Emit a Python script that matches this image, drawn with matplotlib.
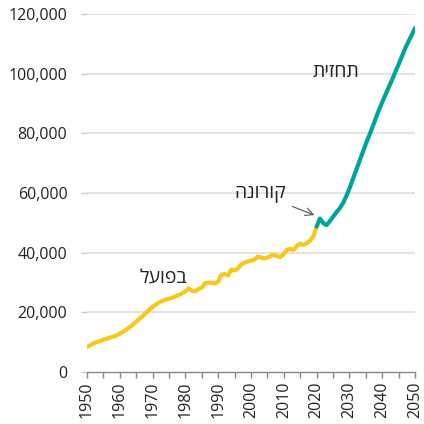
import matplotlib.pyplot as plt
from matplotlib.ticker import FuncFormatter, MultipleLocator

# values in thousands
ACTUAL_YEARS = list(range(1950, 2021))
ACTUAL = [
    8.3, 8.9, 9.5, 10.0, 10.3, 10.8, 11.1, 11.5, 11.8, 12.2,
    12.8, 13.4, 14.1, 15.0, 15.8, 16.8, 17.8, 18.7, 19.8, 20.8,
    21.8, 22.6, 23.3, 23.8, 24.2, 24.5, 24.9, 25.3, 25.8, 26.3,
    27.0, 28.0, 27.2, 27.0, 27.8, 28.2, 29.7, 29.9, 29.9, 29.6,
    30.3, 32.6, 32.8, 32.3, 34.3, 34.0, 34.7, 36.0, 36.6, 37.0,
    37.3, 37.6, 38.6, 38.4, 38.0, 38.3, 38.9, 39.2, 38.8, 38.5,
    39.5, 41.0, 41.2, 40.9, 42.3, 43.0, 42.6, 43.1, 44.0, 45.5,
    48.7,
]
FORECAST_YEARS = list(range(2020, 2051))
FORECAST = [
    48.7, 51.4, 49.9, 49.2, 50.5, 52.0, 53.5, 54.8, 56.5, 58.8,
    61.5, 64.5, 67.5, 70.5, 73.5, 76.5, 79.2, 82.0, 85.0, 87.8,
    90.5, 93.0, 95.5, 98.0, 100.6, 103.2, 105.8, 108.5, 110.8, 113.0,
    115.3,
]
LABEL_ACTUAL = "בפועל"
LABEL_COVID = "קורונה"
LABEL_FORECAST = "תחזית"

YELLOW = "#f7c81c"
TEAL = "#00a39b"
TEXT = "#222222"
FONT = ["Open Sans", "DejaVu Sans"]

plt.rcParams["font.family"] = FONT


def heb(s):
    # matplotlib has no bidi support: reverse the logical order
    return s[::-1]


fig = plt.figure(figsize=(4.24, 4.24), dpi=100)
ax = fig.add_axes([0.205, 0.123, 0.774, 0.844])

ax.plot(ACTUAL_YEARS, [v * 1000 for v in ACTUAL], color=YELLOW, lw=3,
        solid_capstyle="round", solid_joinstyle="round", zorder=3)
ax.plot(FORECAST_YEARS, [v * 1000 for v in FORECAST], color=TEAL, lw=3,
        solid_capstyle="round", solid_joinstyle="round", zorder=4)

ax.set_xlim(1950, 2050)
ax.set_ylim(0, 120000)
ax.yaxis.set_major_locator(MultipleLocator(20000))
ax.yaxis.set_major_formatter(FuncFormatter(lambda v, _: f"{v:,.0f}"))
ax.xaxis.set_major_locator(MultipleLocator(10))
ax.xaxis.set_minor_locator(MultipleLocator(5))
ax.xaxis.set_major_formatter(FuncFormatter(lambda v, _: f"{v:.0f}"))

for y in range(20000, 120001, 20000):
    ax.axhline(y, color="#dedede", lw=1.2, zorder=1)

for side in ("left", "right", "top"):
    ax.spines[side].set_visible(False)
ax.spines["bottom"].set_color("#888888")
ax.spines["bottom"].set_linewidth(1)

ax.tick_params(axis="y", length=4, width=1, color="#c8c8c8", pad=10,
               labelsize=11.5, labelcolor=TEXT)
ax.tick_params(axis="x", which="both", length=4, width=1, color="#888888",
               labelsize=11.5, labelcolor=TEXT, labelrotation=90, pad=3)

ax.text(1973.2, 31500, heb(LABEL_ACTUAL), fontsize=14, color=TEXT,
        ha="center", va="center")
ax.text(2025.9, 100600, heb(LABEL_FORECAST), fontsize=14, color=TEXT,
        ha="center", va="center")
ax.annotate(heb(LABEL_COVID), xy=(2019.7, 52400), xytext=(2002.7, 59700),
            fontsize=14, color=TEXT, ha="center", va="center",
            arrowprops=dict(arrowstyle="->", color="#555555", lw=0.8,
                            shrinkA=3, shrinkB=1))

fig.savefig("out.png", dpi=100)
